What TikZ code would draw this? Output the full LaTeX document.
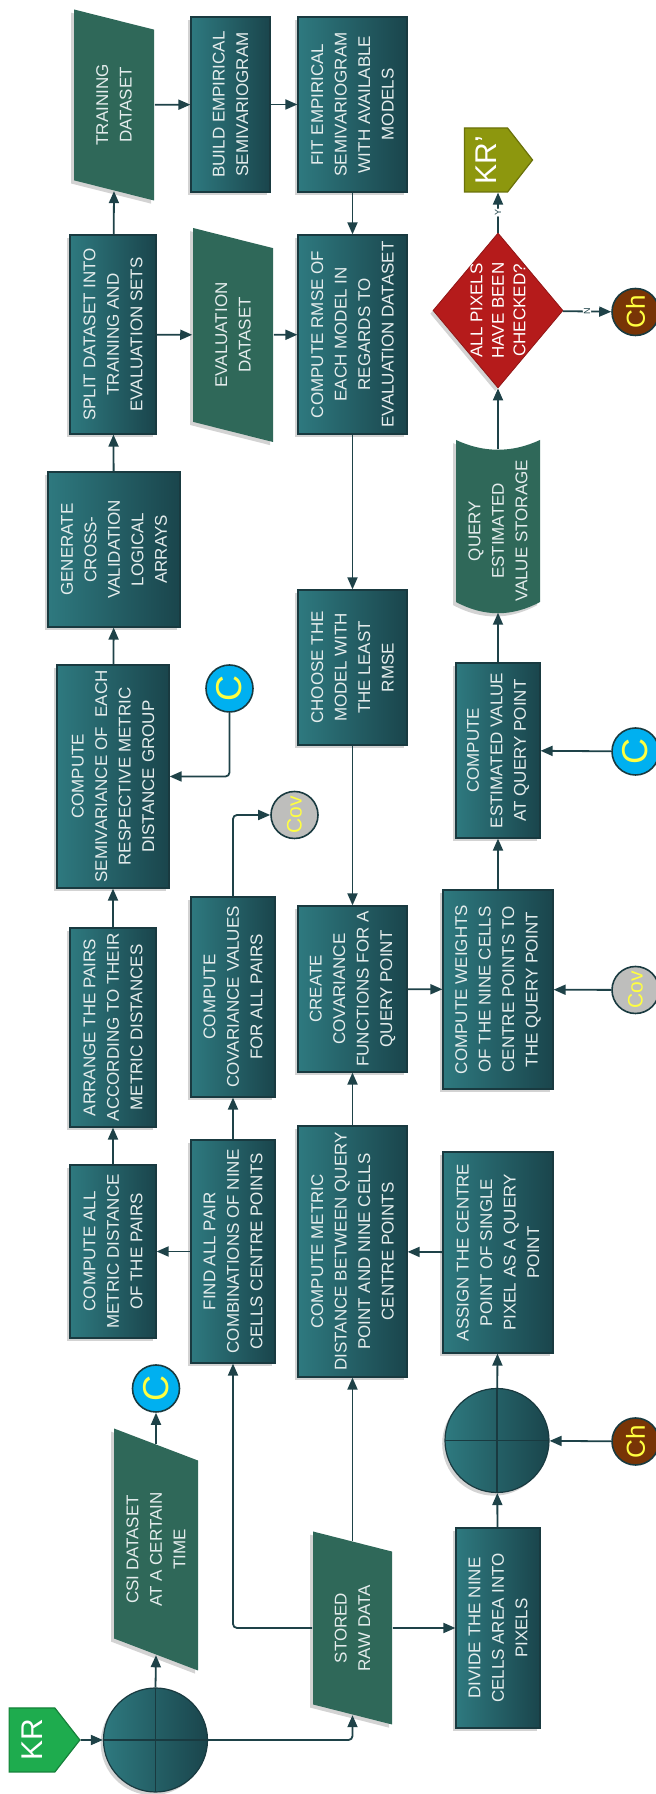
\documentclass[tikz,border=0pt]{standalone}
\usepackage{fontspec}
\setmainfont{Liberation Sans}
\usetikzlibrary{shapes.geometric,shapes.symbols,shadows,arrows.meta}

\definecolor{boxlight}{RGB}{46,121,127}
\definecolor{boxdark}{RGB}{26,69,76}
\definecolor{datagreen}{RGB}{47,104,89}
\definecolor{edgeteal}{RGB}{25,58,64}
\definecolor{lineteal}{RGB}{30,66,72}
\definecolor{boxtext}{RGB}{228,236,236}
\definecolor{decred}{RGB}{181,27,27}
\definecolor{krgreen}{RGB}{30,172,78}
\definecolor{krolive}{RGB}{141,151,14}
\definecolor{conncyan}{RGB}{0,176,240}
\definecolor{conngray}{RGB}{190,190,188}
\definecolor{connbrown}{RGB}{120,52,6}
\definecolor{connyellow}{RGB}{255,255,64}

\tikzset{every picture/.style={line width=0.75pt},
    softshadow/.style={drop shadow={opacity=0.35,shadow xshift=-1.4pt,shadow yshift=-1.6pt}},
    process/.style={rectangle, draw=edgeteal, line width=0.6pt, left color=boxlight, right color=boxdark,
        text=boxtext, align=center, inner sep=1pt, font=\fontsize{8.5}{11.75}\selectfont, softshadow},
    data/.style={trapezium, trapezium left angle=63, trapezium right angle=117, trapezium stretches body,
        fill=datagreen, text=boxtext, align=center, inner sep=1pt, font=\fontsize{8.5}{11.75}\selectfont, softshadow},
    junction/.style={circle, draw=edgeteal, line width=0.6pt, left color=boxlight, right color=boxdark,
        minimum size=52pt, inner sep=0pt, softshadow,
        path picture={\draw[edgeteal, line width=0.8pt] (path picture bounding box.north) -- (path picture bounding box.south)
            (path picture bounding box.west) -- (path picture bounding box.east);}},
    offpage/.style={signal, signal to=south, signal pointer angle=104, minimum width=32pt, minimum height=31pt,
        inner sep=0pt, line width=0.6pt, text=white, font=\fontsize{15}{15}\selectfont},
    decision/.style={diamond, minimum width=77.5pt, minimum height=65pt, inner sep=0pt, fill=decred,
        draw=decred!80!black, line width=0.4pt, softshadow},
    checktext/.style={text=white, align=center, font=\fontsize{8.5}{10.75}\selectfont},
    conn/.style={circle, draw=edgeteal, line width=0.8pt, minimum size=23.5pt, inner sep=0pt, text=connyellow},
    flow/.style={draw=lineteal, line width=0.9pt, rounded corners=2pt, -{Triangle[length=6pt,width=5pt]}},
    yn/.style={fill=white, inner sep=0.5pt, text=lineteal, font=\fontsize{4.5}{4.5}\selectfont}
}

\begin{document}
\begin{tikzpicture}[rotate=90, transform shape, x=0.5pt, y=0.5pt]
    \useasboundingbox (0,0) rectangle (1794,-656);

    \node[offpage, fill=krgreen, draw=krgreen!75!black] (kr) at (54,-32) {KR};
    \node[junction] (j1) at (54,-155.5) {};
    \node[data, minimum width=121pt, minimum height=42pt] (csi) at (244.5,-156) {CSI DATASET\\AT A CERTAIN\\TIME};
    \node[conn, fill=conncyan, font=\fontsize{18}{18}\selectfont] (cA) at (405.5,-156) {C};
    \node[data, minimum width=96.5pt, minimum height=39.5pt] (raw) at (166,-352.5) {STORED\\RAW DATA};
    \node[process, minimum width=100pt, minimum height=42pt] (divide) at (166,-498) {DIVIDE THE NINE\\CELLS AREA INTO\\PIXELS};
    \node[junction] (j2) at (353.5,-497) {};
    \node[conn, fill=connbrown, font=\fontsize{13}{13}\selectfont] (chA) at (352.5,-635.5) {Ch};
    \node[process, minimum width=100.5pt, minimum height=55pt] (assign) at (541.5,-498) {ASSIGN THE CENTRE\\POINT OF SINGLE\\PIXEL AS A QUERY\\POINT};
    \node[process, minimum width=125.5pt, minimum height=54.5pt] (metric) at (542.5,-352.5) {COMPUTE METRIC\\DISTANCE BETWEEN QUERY\\POINT AND NINE CELLS\\CENTRE POINTS};
    \node[process, minimum width=111.5pt, minimum height=42pt] (findpair) at (542.5,-233) {FIND ALL PAIR\\COMBINATIONS OF NINE\\CELLS CENTRE POINTS};
    \node[process, minimum width=86.5pt, minimum height=43pt] (allmetric) at (542.5,-113) {COMPUTE ALL\\METRIC DISTANCE\\OF THE PAIRS};
    \node[process, minimum width=99.5pt, minimum height=43pt] (arrange) at (766.5,-113) {ARRANGE THE PAIRS\\ACCORDING TO THEIR\\METRIC DISTANCES};
    \node[process, minimum width=100pt, minimum height=42pt] (covval) at (797,-233) {COMPUTE\\COVARIANCE VALUES\\FOR ALL PAIRS};
    \node[conn, fill=conngray, font=\fontsize{10.5}{10.5}\selectfont] (covA) at (979,-294.5) {Cov};
    \node[process, minimum width=83pt, minimum height=54.5pt] (create) at (805,-352.5) {CREATE\\COVARIANCE\\FUNCTIONS FOR A\\QUERY POINT};
    \node[process, minimum width=99.5pt, minimum height=55pt] (weights) at (804.5,-498) {COMPUTE WEIGHTS\\OF THE NINE CELLS\\CENTRE POINTS TO\\THE QUERY POINT};
    \node[conn, fill=conngray, font=\fontsize{10.5}{10.5}\selectfont] (covB) at (804,-635.5) {Cov};
    \node[process, minimum width=111.5pt, minimum height=56pt] (semivar) at (1017.5,-113) {COMPUTE\\SEMIVARIANCE OF \ EACH\\RESPECTIVE METRIC\\DISTANCE GROUP};
    \node[conn, fill=conncyan, font=\fontsize{18}{18}\selectfont] (cB) at (1105.5,-229.5) {C};
    \node[process, minimum width=87.5pt, minimum height=42pt] (estim) at (1043.5,-498) {COMPUTE\\ESTIMATED VALUE\\AT QUERY POINT};
    \node[conn, fill=conncyan, font=\fontsize{18}{18}\selectfont] (cC) at (1042.5,-635.5) {C};
    \node[process, minimum width=77.5pt, minimum height=54.5pt] (choose) at (1126.5,-352.5) {CHOOSE THE\\MODEL WITH\\THE LEAST\\RMSE};
    \node[process, minimum width=77.5pt, minimum height=66pt] (generate) at (1244.5,-114) {GENERATE\\CROSS-\\VALIDATION\\LOGICAL\\ARRAYS};
    \fill[datagreen, softshadow] (1192,-456) -- (1354,-456) .. controls (1341,-484) and (1341,-512) .. (1354,-540)
        -- (1192,-540) .. controls (1177,-512) and (1177,-484) .. (1192,-456) -- cycle;
    \node[align=center, text=boxtext, font=\fontsize{8.5}{11.75}\selectfont, minimum width=81pt, minimum height=42pt, inner sep=0pt] (store) at (1263,-498) {QUERY\\ESTIMATED\\VALUE STORAGE};
    \node[process, minimum width=99.5pt, minimum height=43pt] (split) at (1459.5,-113) {SPLIT DATASET INTO\\TRAINING AND\\EVALUATION SETS};
    \node[data, minimum width=107pt, minimum height=40pt] (evalset) at (1459,-233) {EVALUATION\\DATASET};
    \node[process, minimum width=99.5pt, minimum height=54.5pt] (rmse) at (1459.5,-352.5) {COMPUTE RMSE OF\\EACH MODEL IN\\REGARDS TO\\EVALUATION DATASET};
    \node[decision, label={[checktext]center:ALL PIXELS\\HAVE BEEN\\CHECKED?}] (check) at (1483.5,-498) {};
    \node[conn, fill=connbrown, font=\fontsize{13}{13}\selectfont] (chB) at (1482,-635.5) {Ch};
    \node[data, minimum width=95.5pt, minimum height=40pt] (train) at (1689,-114) {TRAINING\\DATASET};
    \node[process, minimum width=87.5pt, minimum height=39.5pt] (build) at (1689.5,-230.5) {BUILD EMPIRICAL\\SEMIVARIOGRAM};
    \node[process, minimum width=87.5pt, minimum height=54.5pt] (fit) at (1689.5,-352.5) {FIT EMPIRICAL\\SEMIVARIOGRAM\\WITH AVAILABLE\\MODELS};
    \node[offpage, fill=krolive, draw=krolive!75!black] (krp) at (1634,-486) {KR’};

    \draw[flow] (kr) -- (j1);
    \draw[flow] (j1.east) -- (csi.left side);
    \draw[flow] (csi.right side) -- (cA);
    \draw[flow] (j1.south) |- (raw.left side);
    \draw[flow] (raw.right side) -- (metric.west);
    \draw[flow] (raw.north) |- (findpair.west);
    \draw[flow] (raw.south) -- (divide.north);
    \draw[flow] (divide) -- (j2);
    \draw[flow] (chA) -- (j2);
    \draw[flow] (j2) -- (assign);
    \draw[flow] (assign) -- (metric);
    \draw[flow] (metric) -- (create);
    \draw[flow] (findpair) -- (allmetric);
    \draw[flow] (findpair) -- (covval);
    \draw[flow] (covval.east) -| (covA.north);
    \draw[flow] (allmetric) -- (arrange);
    \draw[flow] (arrange) -- (semivar);
    \draw[flow] (cB.west) -| (semivar.south);
    \draw[flow] (semivar) -- (generate);
    \draw[flow] (generate) -- (split);
    \draw[flow] (split) -- (train.left side);
    \draw[flow] (split) -- (evalset);
    \draw[flow] (train) -- (build);
    \draw[flow] (build) -- (fit);
    \draw[flow] (fit) -- (rmse);
    \draw[flow] (evalset) -- (rmse);
    \draw[flow] (rmse) -- (choose);
    \draw[flow] (choose) -- (create);
    \draw[flow] (create) -- (weights);
    \draw[flow] (covB) -- (weights);
    \draw[flow] (weights) -- (estim);
    \draw[flow] (cC) -- (estim);
    \draw[flow] (estim) -- (store);
    \draw[flow] (store) -- (check);
    \draw[flow] (check) -- node[yn] (ylabel) {Y} ([yshift=-6pt]krp.west);
    \draw[flow] (check) -- node[yn] (nlabel) {N} (chB);
\end{tikzpicture}
\end{document}
